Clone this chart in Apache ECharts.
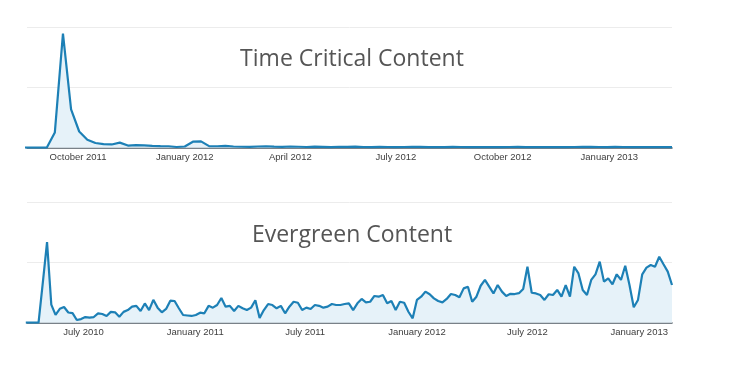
<!DOCTYPE html>
<html>
<head>
<meta charset="utf-8">
<script src="https://cdn.jsdelivr.net/npm/echarts@6/dist/echarts.min.js"></script>
<style>
html,body{margin:0;padding:0;background:#fff;}
#chart{width:735px;height:378px;}
</style>
</head>
<body>
<div id="chart"></div>
<script>
// ---- Data ----
const titles = ['Time Critical Content', 'Evergreen Content'];

// Weekly (Sunday) points, first week start
const timeCriticalStart = [2011, 7, 14];
const timeCriticalValues = [
  0, 0, 0, 0, 12.7, 95, 32, 13.5, 6.6, 3.9,
  3, 2.7, 4.2, 1.8, 2.2, 2, 1.5, 1.3, 1.2, 0.6,
  1, 5, 5.3, 1.3, 1.2, 1.6, 1, 0.8, 0.7, 1,
  1.2, 0.9, 0.7, 1, 0.8, 0.6, 0.9, 0.7, 0.5, 0.8,
  0.7, 0.9, 0.6, 0.5, 0.7, 0.6, 0.4, 0.6, 0.8, 0.7,
  0.5, 0.6, 0.5, 0.7, 0.6, 0.4, 0.5, 0.6, 0.5, 0.4,
  0.6, 0.7, 0.5, 0.4, 0.5, 0.6, 0.5, 0.4, 0.6, 0.8,
  0.7, 0.6, 0.5, 0.7, 0.6, 0.5, 0.4, 0.5, 0.6, 0.5,
  0.4
];

const evergreenStart = [2010, 2, 28];
const evergreenValues = [
  0, 0, 0, 0, 33, 67, 15, 6.5, 11.5, 13,
  8.5, 8, 2.2, 3, 4.7, 4.2, 4.7, 7.8, 7.2, 5.6,
  9, 8.6, 5, 9, 10.5, 13.3, 14, 9.7, 16, 10.5,
  19, 12.5, 8.6, 11.4, 18.3, 18, 12, 6.4, 6, 5.6,
  6.4, 8.3, 7.8, 14, 12.5, 14.7, 20.5, 13.3, 14, 9.7,
  14, 12, 10.5, 12.5, 18.6, 4, 10.5, 15.5, 14.7, 12,
  14, 7.8, 13.3, 17.4, 16.6, 10.5, 12.5, 11.4, 14.7, 14,
  12.5, 13.3, 15.5, 14.7, 14.7, 15.5, 16.1, 10.5, 16.1, 19.7,
  16.9, 17.4, 22.2, 21.6, 23, 16.1, 18, 10.5, 17.4, 16.6,
  9.1, 3.6, 18.9, 21.6, 25.8, 23.6, 20.2, 18, 16.9, 19.7,
  23.8, 23, 21.1, 28.5, 29.9, 17.4, 21.6, 30.7, 35.5, 29.9,
  24.3, 31.3, 25.8, 22.2, 24, 23.8, 24.5, 28, 46.5, 24.9,
  24.3, 23, 18.9, 23.6, 23, 27.2, 21.6, 31.3, 21.6, 46.5,
  40.9, 27.2, 23, 35.5, 40.2, 50.7, 34.1, 36.9, 31.9, 40.2,
  35.5, 47.3, 31.3, 12.8, 18.9, 40.2, 45.7, 47.9, 46.5, 54.8,
  48.5, 42.4, 31.3
];

// Axis ranges and tick labels (month starts)
const timeCriticalRange = [[2011, 7, 18], [2013, 1, 24]];
const timeCriticalTicks = [[2011, 9, 1], [2012, 0, 1], [2012, 3, 1], [2012, 6, 1], [2012, 9, 1], [2013, 0, 1]];
const evergreenRange = [[2010, 2, 30], [2013, 1, 24]];
const evergreenTicks = [[2010, 6, 1], [2011, 0, 1], [2011, 6, 1], [2012, 0, 1], [2012, 6, 1], [2013, 0, 1]];
const monthNames = ['January','February','March','April','May','June','July','August','September','October','November','December'];

// ---- Build ----
function ts(d) { return new Date(d[0], d[1], d[2]).getTime(); }
function weekly(start, values) {
  return values.map((v, i) => [new Date(start[0], start[1], start[2] + 7 * i).getTime(), v]);
}
function fmt(v) { const d = new Date(Math.round(v)); return monthNames[d.getMonth()] + ' ' + d.getFullYear(); }

const lineColor = '#1d80b6';
const areaColor = '#e6f2f9';
const gridTops = [27.7, 202.3];

function xAxisCfg(idx, range, ticks) {
  return {
    type: 'value', gridIndex: idx,
    min: ts(range[0]), max: ts(range[1]),
    axisLine: { show: true, onZero: false, lineStyle: { color: '#4d5861', width: 1.5 } },
    axisTick: { show: false },
    splitLine: { show: false },
    axisLabel: {
      customValues: ticks.map(ts),
      formatter: fmt,
      color: '#404040',
      fontFamily: 'Liberation Sans, Arial, sans-serif',
      fontSize: 9.5,
      margin: 5,
      hideOverlap: false
    }
  };
}
function yAxisCfg(idx) {
  return {
    type: 'value', gridIndex: idx, min: 0, max: 100, interval: 50,
    axisLabel: { show: false }, axisLine: { show: false }, axisTick: { show: false },
    splitLine: { show: true, lineStyle: { color: '#ececec', width: 1 } }
  };
}
function seriesCfg(idx, data) {
  return {
    type: 'line', xAxisIndex: idx, yAxisIndex: idx, data: data,
    showSymbol: false, symbol: 'none', smooth: false, clip: true,
    lineStyle: { color: lineColor, width: 2.2 },
    areaStyle: { color: areaColor, opacity: 1 },
    z: 3
  };
}

const chart = echarts.init(document.getElementById('chart'), null, { renderer: 'canvas' });
chart.setOption({
  animation: false,
  backgroundColor: '#ffffff',
  title: [
    { text: titles[0], left: 347, top: 43, textAlign: 'center',
      textStyle: { fontFamily: 'Open Sans, sans-serif', fontSize: 23, fontWeight: 'normal', color: '#555555' } },
    { text: titles[1], left: 347, top: 219, textAlign: 'center',
      textStyle: { fontFamily: 'Open Sans, sans-serif', fontSize: 23, fontWeight: 'normal', color: '#555555' } }
  ],
  grid: [
    { left: 27, right: 63, top: gridTops[0], height: 120 },
    { left: 27, right: 63, top: gridTops[1], height: 120.4 }
  ],
  xAxis: [
    xAxisCfg(0, timeCriticalRange, timeCriticalTicks),
    xAxisCfg(1, evergreenRange, evergreenTicks)
  ],
  yAxis: [yAxisCfg(0), yAxisCfg(1)],
  series: [
    seriesCfg(0, weekly(timeCriticalStart, timeCriticalValues)),
    seriesCfg(1, weekly(evergreenStart, evergreenValues))
  ]
});
</script>
</body>
</html>
